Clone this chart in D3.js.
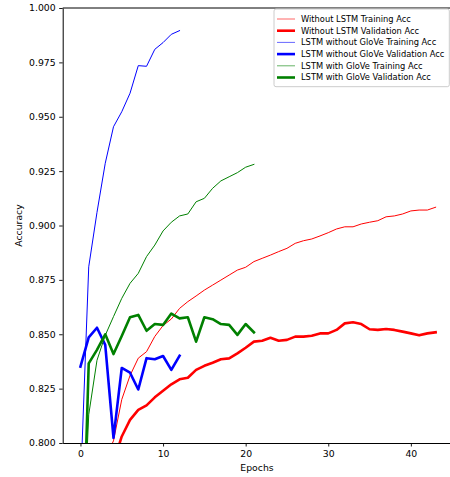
<!DOCTYPE html>
<html>
<head>
<meta charset="utf-8">
<script src="https://cdn.jsdelivr.net/npm/d3@7"></script>
<style>
  html, body { margin: 0; padding: 0; background: #ffffff; }
  svg { display: block; font-family: "DejaVu Sans", sans-serif; }
</style>
</head>
<body>
<svg id="chart" width="450" height="477"></svg>
<script>
// Accuracy per epoch for the three model variants
const woLstmTrain = [0.680, 0.755, 0.779, 0.793, 0.801, 0.820, 0.831, 0.839, 0.842, 0.849,
  0.854, 0.857, 0.8619, 0.865, 0.8676, 0.8703, 0.8726, 0.8749, 0.8772, 0.8795,
  0.8808, 0.8834, 0.8849, 0.8864, 0.8880, 0.8895, 0.8918, 0.8930, 0.8938, 0.8952,
  0.8967, 0.8984, 0.8994, 0.8994, 0.9007, 0.9015, 0.9022, 0.9040, 0.9044, 0.9053,
  0.9067, 0.9071, 0.9071, 0.9084];
const woLstmVal = [0.740, 0.760, 0.772, 0.782, 0.791, 0.803, 0.8106, 0.8152, 0.8173, 0.8210,
  0.8240, 0.8270, 0.8293, 0.8300, 0.8336, 0.8355, 0.8369, 0.8385, 0.8389, 0.8412,
  0.8438, 0.8466, 0.8470, 0.8484, 0.8470, 0.8474, 0.8489, 0.8489, 0.8493, 0.8504,
  0.8504, 0.8520, 0.8550, 0.8555, 0.8547, 0.8523, 0.8520, 0.8524, 0.8520, 0.8512,
  0.8504, 0.8495, 0.8504, 0.8509];
const lstmNoGloveTrain = [0.779, 0.881, 0.906, 0.9286, 0.9454, 0.9523, 0.9608, 0.9735, 0.9732,
  0.9810, 0.9841, 0.9879, 0.9896];
const lstmNoGloveVal = [0.8351, 0.8486, 0.8530, 0.8451, 0.8024, 0.8345, 0.8323, 0.8246, 0.8390,
  0.8385, 0.8400, 0.8336, 0.8401];
const lstmGloveTrain = [0.726, 0.813, 0.838, 0.8495, 0.8581, 0.8665, 0.8734, 0.8780, 0.8857,
  0.8910, 0.8975, 0.9015, 0.9044, 0.9053, 0.9109, 0.9125, 0.9171, 0.9205, 0.9224,
  0.9243, 0.9268, 0.9281];
const lstmGloveVal = [0.710, 0.8366, 0.8428, 0.8500, 0.8409, 0.8492, 0.8578, 0.8589, 0.8516,
  0.8547, 0.8543, 0.8595, 0.8573, 0.8578, 0.8466, 0.8578, 0.8569, 0.8547, 0.8543,
  0.8497, 0.8547, 0.8509];

const seriesNames = [
  "Without LSTM Training Acc",
  "Without LSTM Validation Acc",
  "LSTM without GloVe Training Acc",
  "LSTM without GloVe Validation Acc",
  "LSTM with GloVe Training Acc",
  "LSTM with GloVe Validation Acc"
];
const seriesValues = [woLstmTrain, woLstmVal, lstmNoGloveTrain, lstmNoGloveVal, lstmGloveTrain, lstmGloveVal];
const seriesColors = ["#ff0000", "#ff0000", "#0000ff", "#0000ff", "#008000", "#008000"];
const seriesWidths = [1, 2.6, 1, 2.6, 1, 2.6];

const xTicks = [0, 10, 20, 30, 40];
const yTicks = [0.800, 0.825, 0.850, 0.875, 0.900, 0.925, 0.950, 0.975, 1.000];

const svg = d3.select("#chart");
const plotLeft = 62.7, plotRight = 453.4, plotTop = 8, plotBottom = 443;

const x = d3.scaleLinear().domain([-2.15, 45.15]).range([plotLeft, plotRight]);
const y = d3.scaleLinear().domain([0.8, 1.0]).range([plotBottom, plotTop]);

svg.append("defs").append("clipPath").attr("id", "plotArea")
  .append("rect").attr("x", plotLeft).attr("y", plotTop)
  .attr("width", plotRight - plotLeft).attr("height", plotBottom - plotTop);

// Lines
const line = d3.line().x((d, i) => x(i)).y(d => y(d));
const plot = svg.append("g").attr("clip-path", "url(#plotArea)");
seriesValues.forEach((vals, k) => {
  plot.append("path")
    .datum(vals)
    .attr("d", line)
    .attr("fill", "none")
    .attr("stroke", seriesColors[k])
    .attr("stroke-width", seriesWidths[k])
    .attr("stroke-linejoin", "round")
    .attr("stroke-linecap", "square");
});

// Frame (top and right spines)
svg.append("line").attr("x1", plotLeft).attr("x2", plotRight).attr("y1", plotTop).attr("y2", plotTop)
  .attr("stroke", "#000").attr("stroke-width", 1);
svg.append("line").attr("x1", plotRight).attr("x2", plotRight).attr("y1", plotTop).attr("y2", plotBottom)
  .attr("stroke", "#000").attr("stroke-width", 1);

// Axes
const xAxis = d3.axisBottom(x).tickValues(xTicks).tickSizeInner(3.5).tickSizeOuter(0).tickPadding(3.5)
  .tickFormat(d3.format("d"));
const yAxis = d3.axisLeft(y).tickValues(yTicks).tickSizeInner(3.5).tickSizeOuter(0).tickPadding(3.5)
  .tickFormat(d3.format(".3f"));

const gx = svg.append("g").attr("transform", `translate(0,${plotBottom})`).call(xAxis);
const gy = svg.append("g").attr("transform", `translate(${plotLeft},0)`).call(yAxis);
[gx, gy].forEach(g => {
  g.selectAll("text").attr("font-size", 9.3).attr("fill", "#000")
    .attr("font-family", "DejaVu Sans, sans-serif");
  g.selectAll("line").attr("stroke", "#000").attr("stroke-width", 0.9);
  g.select(".domain").attr("stroke", "#000").attr("stroke-width", 1);
});

svg.append("text").attr("x", 257).attr("y", 470.5).attr("text-anchor", "middle")
  .attr("font-size", 9.3).text("Epochs");
svg.append("text").attr("transform", "translate(21.5,225.5) rotate(-90)")
  .attr("text-anchor", "middle").attr("font-size", 9.3).text("Accuracy");

// Legend
const legend = svg.append("g");
legend.append("rect").attr("x", 274).attr("y", 9).attr("width", 175.3).attr("height", 77.7)
  .attr("rx", 2).attr("fill", "#ffffff").attr("fill-opacity", 0.8)
  .attr("stroke", "#cccccc").attr("stroke-width", 1);
seriesNames.forEach((name, k) => {
  const yy = 19 + k * 11.7;
  legend.append("line").attr("x1", 277).attr("x2", 295).attr("y1", yy).attr("y2", yy)
    .attr("stroke", seriesColors[k]).attr("stroke-width", seriesWidths[k])
    .attr("stroke-opacity", seriesWidths[k] < 2 ? 0.6 : 1);
  legend.append("text").attr("x", 301).attr("y", yy).attr("dy", "0.35em")
    .attr("font-size", 8.3).attr("fill", "#000").text(name);
});
</script>
</body>
</html>
